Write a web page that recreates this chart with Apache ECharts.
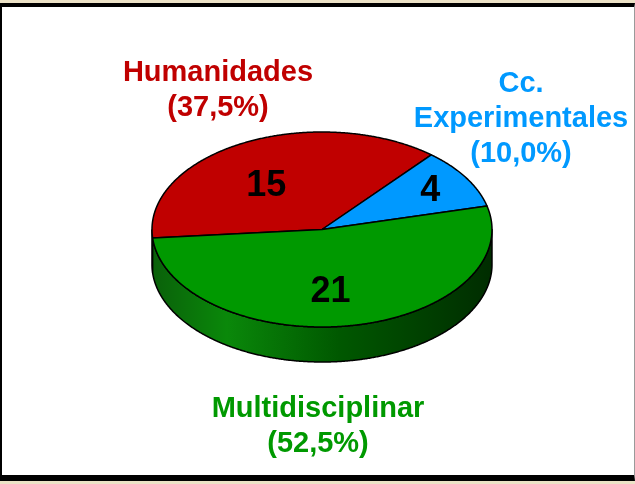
<!DOCTYPE html>
<html>
<head>
<meta charset="utf-8">
<script src="https://cdn.jsdelivr.net/npm/echarts@6/dist/echarts.min.js"></script>
<style>
  html, body { margin: 0; padding: 0; background: #ece2c6; }
  #frame {
    position: absolute; left: 0; top: 3px; width: 635px; height: 478px;
    box-sizing: border-box; background: #fff;
    border-style: solid; border-color: #000 #9a9a9a #000 #000;
    border-width: 4px 1px 6px 2px;
  }
  #chart { position: absolute; left: 0; top: 0; width: 635px; height: 484px; }
</style>
</head>
<body>
<div id="frame"></div>
<div id="chart"></div>
<script>
// datos
const categories = ['Humanidades', 'Cc.\nExperimentales', 'Multidisciplinar'];
const counts = [15, 4, 21];

// estilo
const topColors = ['#c00000', '#0099ff', '#009900'];
const sideColors = ['#7a0000', '#005c99', null];
const labelColors = ['#c00000', '#0099ff', '#009900'];
const labelPos = [[218, 90], [521, 119], [318, 426]];
const numOffset = [[-4, 14], [13, -4], [-10, -1]];

const FLAT = 97.5 / 170;   // aplastamiento de la elipse
const DEPTH = 35;          // grosor del disco
const NUM_R = 0.66;        // radio relativo de los números

const total = counts.reduce((a, b) => a + b, 0);
const sliceData = [];
let acc = 0;
counts.forEach(c => { sliceData.push([acc, acc + c]); acc += c; });

const pct = c => (c / total * 100).toFixed(1).replace('.', ',') + '%';

const greenSide = new echarts.graphic.LinearGradient(0, 0, 1, 0, [
  { offset: 0, color: '#0a600a' },
  { offset: 0.22, color: '#0a880a' },
  { offset: 0.55, color: '#005800' },
  { offset: 1, color: '#002c00' }
]);

function renderSlice(params, api) {
  const i = params.dataIndex;
  const v0 = api.value(0), v1 = api.value(1);
  const c = api.coord([0, v0]);
  const cx = c[0], cy = c[1];
  const pt = (r, v) => {
    const p = api.coord([r, v]);
    return [p[0], cy + (p[1] - cy) * FLAT];
  };
  const steps = Math.max(2, Math.ceil((v1 - v0) / 0.04));
  const arc = [];
  for (let s = 0; s <= steps; s++) arc.push(pt(1, v0 + (v1 - v0) * s / steps));

  const children = [];
  const front = arc.filter(p => p[1] >= cy - 0.01);
  if (front.length > 1) {
    const side = front.concat(front.slice().reverse().map(p => [p[0], p[1] + DEPTH]));
    children.push({
      type: 'polygon', z2: 0,
      shape: { points: side },
      style: { fill: sideColors[i] || greenSide, stroke: '#000', lineWidth: 1.5, lineJoin: 'round' }
    });
  }
  children.push({
    type: 'polygon', z2: 1,
    shape: { points: [[cx, cy]].concat(arc) },
    style: { fill: topColors[i], stroke: '#000', lineWidth: 1.5, lineJoin: 'round' }
  });
  const m = pt(NUM_R, (v0 + v1) / 2);
  children.push({
    type: 'text', z2: 2, x: m[0] + numOffset[i][0], y: m[1] + numOffset[i][1],
    style: {
      text: String(counts[i]), fill: '#000',
      font: 'bold 36px "Liberation Sans", Arial, sans-serif',
      align: 'center', verticalAlign: 'middle'
    }
  });
  return { type: 'group', children };
}

const chart = echarts.init(document.getElementById('chart'));
chart.setOption({
  animation: false,
  polar: { center: [322, 229.5], radius: 170 },
  angleAxis: {
    type: 'value', min: 0, max: total, startAngle: 185, clockwise: true,
    show: false
  },
  radiusAxis: { type: 'value', min: 0, max: 1, show: false },
  series: [{
    type: 'custom',
    coordinateSystem: 'polar',
    renderItem: renderSlice,
    data: sliceData,
    silent: true
  }],
  graphic: categories.map((name, i) => ({
    type: 'text',
    x: labelPos[i][0], y: labelPos[i][1],
    style: {
      text: name + '\n(' + pct(counts[i]) + ')',
      fill: labelColors[i],
      font: 'bold 29px "Liberation Sans", Arial, sans-serif',
      lineHeight: 35,
      align: 'center', verticalAlign: 'middle'
    }
  }))
});
</script>
</body>
</html>
